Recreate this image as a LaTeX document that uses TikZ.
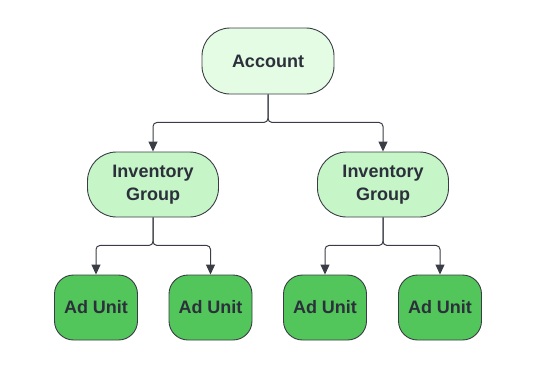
\documentclass[tikz,border=0pt]{standalone}
\usepackage{fontspec}
\setmainfont{Liberation Sans}
\usepackage{xcolor}
\usetikzlibrary{arrows.meta}

\definecolor{edgegray}{HTML}{3A3D45}
\definecolor{textdark}{HTML}{2B303A}
\definecolor{acctfill}{HTML}{E4FBE4}
\definecolor{invfill}{HTML}{C6F5C8}
\definecolor{unitfill}{HTML}{52C65A}

\begin{document}
\begin{tikzpicture}[x=1pt, y=-1pt, >={Triangle[length=10pt,width=9pt]},
	box/.style={draw=edgegray, line width=0.9pt, text=textdark,
		font=\fontsize{18}{22.5}\selectfont\bfseries, align=center, inner sep=0pt},
	acctbox/.style={box, fill=acctfill, minimum width=132pt, minimum height=66pt, rounded corners=28pt},
	invbox/.style={box, fill=invfill, minimum width=131pt, minimum height=65pt, rounded corners=29pt},
	unitbox/.style={box, fill=unitfill, minimum width=83pt, minimum height=65pt, rounded corners=19pt},
	link/.style={draw=edgegray, line width=1pt, rounded corners=4pt, ->}]
	% 1. 画布
	\useasboundingbox (0,0) rectangle (543,391);
	
	% 2. 节点
	\node[acctbox] (acct) at (268,61) {Account};
	\node[invbox] (invL) at (153,184.5) {Inventory\\Group};
	\node[invbox] (invR) at (383,184.5) {Inventory\\Group};
	\node[unitbox] (adA) at (96,307.5) {Ad Unit};
	\node[unitbox] (adB) at (210.5,307.5) {Ad Unit};
	\node[unitbox] (adC) at (325,307.5) {Ad Unit};
	\node[unitbox] (adD) at (440,307.5) {Ad Unit};
	
	% 3. 连线
	\draw[link] (acct.south) -- ++(0,28) -| (invL.north);
	\draw[link] (acct.south) -- ++(0,28) -| (invR.north);
	\draw[link] (invL.south) -- ++(0,28) -| (adA.north);
	\draw[link] (invL.south) -- ++(0,28) -| (adB.north);
	\draw[link] (invR.south) -- ++(0,28) -| (adC.north);
	\draw[link] (invR.south) -- ++(0,28) -| (adD.north);
	
\end{tikzpicture}
\end{document}
